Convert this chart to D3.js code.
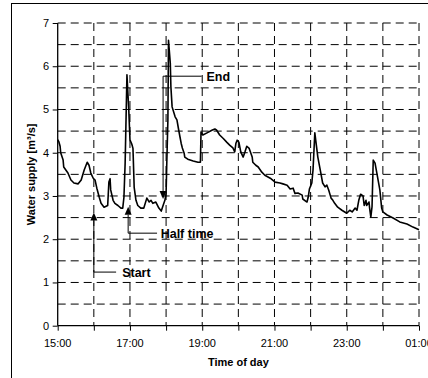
<!DOCTYPE html>
<html><head><meta charset="utf-8">
<script src="https://cdn.jsdelivr.net/npm/d3@7"></script>
<style>body{margin:0;background:#fff}svg{display:block;font-family:"Liberation Sans",Arial,sans-serif}</style>
</head><body><svg width="428" height="378"></svg>
<script>
// minutes after 15:00
const minutes = [0,2,4,5,9,10,17,22,27,34,39,44,49,52,55,59,62,65,69,72,77,83,85,87,88,92,95,100,105,108,110,112,115,118,120,123,125,127,130,133,138,143,148,152,155,158,163,168,172,175,178,180,181,183,184,187,188,190,195,198,201,203,205,207,210,211,216,225,233,237,238,241,248,256,261,264,269,275,281,286,291,294,296,298,301,304,308,311,314,318,323,324,329,333,339,344,353,361,369,374,381,386,391,394,399,406,407,414,416,418,422,424,427,432,437,440,444,447,450,454,457,460,465,472,480,485,489,494,497,500,503,507,509,512,513,517,518,520,522,524,527,530,535,538,540,547,557,568,580,590,600];
const supply = [4.3,4.25,4.15,4.0,3.83,3.67,3.53,3.37,3.3,3.28,3.37,3.6,3.78,3.71,3.53,3.41,3.37,3.18,2.97,2.83,2.74,2.78,3.32,3.4,3.14,2.9,2.83,2.78,2.72,2.72,2.97,3.76,5.8,5.0,4.3,4.2,4.1,3.2,2.9,2.78,2.72,2.72,2.95,2.86,2.9,2.83,2.86,2.72,2.65,2.78,2.9,3.06,3.67,4.76,6.6,6.07,5.52,5.06,4.83,4.76,4.52,4.37,4.22,4.11,3.99,3.9,3.85,3.81,3.78,3.78,4.48,4.41,4.46,4.52,4.55,4.52,4.41,4.33,4.24,4.17,4.11,4.02,4.22,4.29,4.24,4.02,3.9,4.02,4.15,4.1,3.9,3.78,3.71,3.67,3.55,3.48,3.41,3.32,3.3,3.28,3.25,3.16,3.18,3.06,3.07,3.02,2.93,2.86,2.97,3.16,3.3,3.6,4.46,3.9,3.53,3.3,3.21,3.25,3.14,2.95,2.9,2.83,2.74,2.67,2.6,2.67,2.63,2.72,2.67,2.9,3.04,3.0,2.78,2.9,2.78,2.86,2.72,2.51,2.75,3.83,3.76,3.53,3.14,2.72,2.63,2.56,2.49,2.4,2.35,2.28,2.22];
const xTickMinutes = [0,120,240,360,480,600];
const xTickLabels = ["15:00","17:00","19:00","21:00","23:00","01:00"];
const yTicks = [0,1,2,3,4,5,6,7];
const annLabels = ["Start","Half time","End"];
const annMinute = [60,117,175];
const annTip = [2.62,2.75,2.93];
const annElbow = [1.24,2.14,5.77];
const annLineEnd = [97,165,239];
const annTextMinute = [107,171,247];

const svg = d3.select("svg");
const L=57.7, R=419, T=23, B=325.7;
const x = d3.scaleLinear().domain([0,600]).range([L,R]);
const y = d3.scaleLinear().domain([0,7]).range([B,T]);

// outer frame
svg.append("rect").attr("x",11.5).attr("y",3.5).attr("width",600).attr("height",600)
  .attr("fill","none").attr("stroke","#000").attr("stroke-width",1);

// grid
const g = svg.append("g").attr("stroke","#000").attr("stroke-width",1).attr("stroke-dasharray","8,5");
d3.range(1,15).forEach(i=>{ const v=i*0.5;
  g.append("line").attr("x1",L).attr("x2",R).attr("y1",y(v)).attr("y2",y(v)); });
d3.range(1,11).forEach(i=>{ const m=i*60;
  g.append("line").attr("x1",x(m)).attr("x2",x(m)).attr("y1",T).attr("y2",B); });

// axes
const xAxis = d3.axisBottom(x).tickValues(d3.range(0,601,60)).tickSize(5).tickFormat("");
svg.append("g").attr("transform",`translate(0,${B})`).call(xAxis)
  .call(s=>s.select(".domain").attr("d",`M${L},0H${R}`));
const yAxis = d3.axisLeft(y).tickValues(yTicks).tickSize(5).tickFormat("");
svg.append("g").attr("transform",`translate(${L},0)`).call(yAxis)
  .call(s=>s.select(".domain").attr("d",`M0,${T}V${B}`));
svg.selectAll(".domain").attr("stroke","#000").attr("stroke-width",1.3);

svg.append("g").selectAll("text").data(xTickMinutes).join("text")
  .attr("x",d=>x(d)).attr("y",347).attr("text-anchor","middle")
  .attr("font-size",11).text((d,i)=>xTickLabels[i]);
svg.append("g").selectAll("text").data(yTicks).join("text")
  .attr("x",49).attr("y",d=>y(d)+4).attr("text-anchor","end")
  .attr("font-size",11).text(d=>d);

svg.append("text").attr("x",(L+R)/2).attr("y",366).attr("text-anchor","middle")
  .attr("font-size",11).attr("font-weight","bold").text("Time of day");
svg.append("text").attr("transform",`translate(35,${(T+B)/2}) rotate(-90)`)
  .attr("text-anchor","middle").attr("font-size",11).attr("font-weight","bold").text("Water supply [m³/s]");

// data line
const line = d3.line().x((d,i)=>x(minutes[i])).y(d=>y(d));
svg.append("path").datum(supply).attr("d",line).attr("fill","none")
  .attr("stroke","#000").attr("stroke-width",1.6).attr("stroke-linejoin","round");

// annotations
annLabels.forEach((lab,i)=>{
  const ax=x(annMinute[i]), tip=y(annTip[i]), el=y(annElbow[i]);
  const up = el>tip; // arrow points up
  const headLen=8, headW=3.5;
  const baseY = up? tip+headLen : tip-headLen;
  svg.append("path").attr("d",`M${ax},${baseY}V${el}H${x(annLineEnd[i])}`)
    .attr("fill","none").attr("stroke","#000").attr("stroke-width",1);
  svg.append("path").attr("d",`M${ax},${tip}L${ax-headW},${baseY}L${ax+headW},${baseY}Z`).attr("fill","#000");
  svg.append("text").attr("x",x(annTextMinute[i])).attr("y",el+4.5)
    .attr("font-size",12.5).attr("font-weight","bold").text(lab);
});
</script></body></html>
